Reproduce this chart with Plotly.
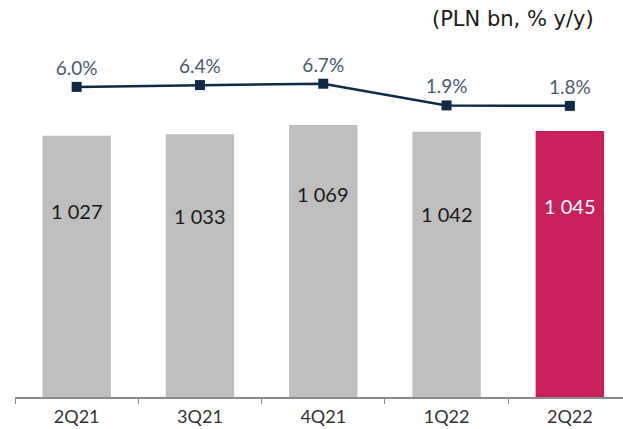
import plotly.graph_objects as go

quarters = ["2Q21", "3Q21", "4Q21", "1Q22", "2Q22"]
volume_pln_bn = [1027, 1033, 1069, 1042, 1045]
growth_yoy_pct = [6.0, 6.4, 6.7, 1.9, 1.8]
volume_labels = ["1 027", "1 033", "1 069", "1 042", "1 045"]
growth_labels = ["6.0%", "6.4%", "6.7%", "1.9%", "1.8%"]

# label heights inside each bar, as a share of the bar height
label_height_share = [0.71, 0.69, 0.745, 0.69, 0.72]

bar_colors = ["#BFBFBF"] * 4 + ["#C8205A"]
label_colors = ["#1a1a1a"] * 4 + ["#FFFFFF"]

fig = go.Figure()

fig.add_trace(go.Bar(
    x=quarters, y=volume_pln_bn,
    marker=dict(color=bar_colors, line=dict(width=0)),
    width=0.555,
    hoverinfo="x+y",
))

fig.add_trace(go.Scatter(
    x=quarters, y=growth_yoy_pct, yaxis="y2",
    mode="lines+markers+text",
    line=dict(color="#0E2A47", width=2.5),
    marker=dict(symbol="square", size=10, color="#0E2A47"),
    text=growth_labels, textposition="top center",
    textfont=dict(family="Lato", size=19, color="#4A5A6E"),
    cliponaxis=False,
))

for q, v, s, t, c in zip(quarters, volume_pln_bn, label_height_share, volume_labels, label_colors):
    fig.add_annotation(x=q, y=v * s, text=t, showarrow=False,
                       font=dict(family="Lato", size=20, color=c))

fig.add_annotation(xref="paper", yref="paper", x=0.955, y=1.0, yshift=7,
                   xanchor="right", yanchor="bottom",
                   text="(PLN bn, % y/y)", showarrow=False,
                   font=dict(family="DejaVu Sans", size=21, color="#1a1a1a"))

fig.update_layout(
    width=623, height=429,
    margin=dict(l=15, r=0, t=40, b=32),
    paper_bgcolor="white", plot_bgcolor="white",
    showlegend=False,
    bargap=0.45,
    xaxis=dict(
        type="category", range=[-0.5, 4.431],
        tickson="boundaries", ticks="outside", ticklen=5, tickcolor="#8C8C8C",
        showline=True, linecolor="#8C8C8C", linewidth=1.5,
        showgrid=False, ticklabelstandoff=3,
        tickfont=dict(family="Lato", size=18, color="#333333"),
    ),
    yaxis=dict(range=[0, 1403], visible=False, showgrid=False, zeroline=False),
    yaxis2=dict(range=[-62.6, 16.37], overlaying="y", visible=False,
                showgrid=False, zeroline=False),
)

fig.write_html("out.html")
